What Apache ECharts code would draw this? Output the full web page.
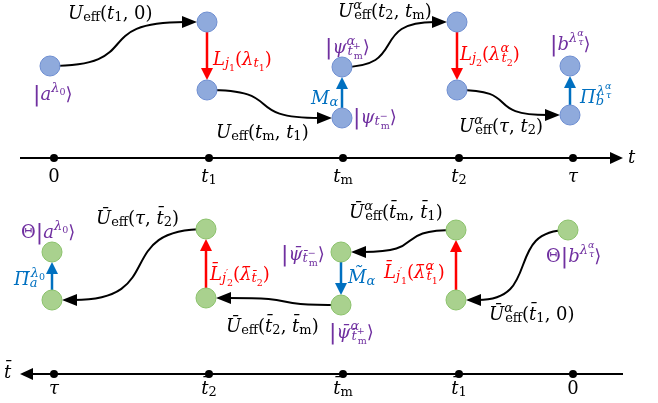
<!DOCTYPE html>
<html><head><meta charset="utf-8">
<script src="https://cdn.jsdelivr.net/npm/echarts@6/dist/echarts.min.js"></script>
<style>html,body{margin:0;padding:0;background:#fff}#c{width:658px;height:403px}</style>
</head><body><div id="c"></div>
<script>
// ---- data ----
const tickX = [54, 209, 343, 459, 573];
const topTickLabels = ['{r|0}', '{i|t}{sr|1}', '{i|t}{sr|m}', '{i|t}{sr|2}', '{i|τ}'];
const bottomTickLabels = ['{i|τ}', '{i|t\u0304}{sr|2}', '{i|t\u0304}{sr|m}', '{i|t\u0304}{sr|1}', '{r|0}'];
const axisLevels = [158, 374];
const axisNames = ['{i|t}', '{i|t\u0304}'];
const blueNodes = [[50,66],[207,22],[207,90],[342,118],[342,67],[457,22],[457,90],[570,115],[570,66]];
const greenNodes = [[52,300],[52,252],[206,298],[206,229],[341,252],[341,305],[456,300],[456,230],[568,230]];
const redArrows = [[207,32,207,80],[457,32,457,80],[206,288,206,239],[456,290,456,240]];
const blueArrows = [[342,108,342,77],[570,105,570,76],[52,290,52,262],[341,262,341,295]];
const curveArrows = [[50,66,197,22],[207,90,332,118],[342,67,447,22],[457,90,560,115],
                     [206,229,62,300],[341,305,216,298],[456,230,351,252],[568,230,466,300]];
const axisArrows = [[20,158,623,158],[623,374,20,374]];
const labels = [
  [68,14,'k','{i|U}{sr|eff}{r|(}{i|t}{sr|1}{r|, 0)}'],
  [213,60,'r','{i|L}{si|j}{ssr|1}{r|(}{i|λ}{si|t}{ssr|1}{r|)}'],
  [33,95,'p','{bar||}{i|a}{pi|λ}{psr|0}{r|⟩}'],
  [216,133,'k','{i|U}{sr|eff}{r|(}{i|t}{sr|m}{r|, }{i|t}{sr|1}{r|)}'],
  [311,99,'b','{i|M}{si|α}'],
  [353,118,'p','{bar||}{i|ψ}{si|t}{sspw|−}{ssr|m}{r|⟩}'],
  [325,48,'p','{bar||}{i|ψ}{piw|α}{si|t}{sspw|+}{ssr|m}{r|⟩}'],
  [338,12,'k','{i|U}{piw|α}{sr|eff}{r|(}{i|t}{sr|2}{r|, }{i|t}{sr|m}{r|)}'],
  [460,55,'r','{i|L}{si|j}{ssr|2}{r|(}{i|λ}{piw|α}{si|t}{ssr|2}{r|)}'],
  [550,45,'p','{bar||}{i|b}{pi|λ}{ppiw|α}{psi|τ}{r|⟩}'],
  [580,98,'b','{i|Π}{siw|b}{pi|λ}{ppiw|α}{psi|τ}'],
  [459,127,'k','{i|U}{piw|α}{sr|eff}{r|(}{i|τ}{r|, }{i|t}{sr|2}{r|)}'],
  [21,233,'p','{r|Θ}{bar||}{i|a}{pi|λ}{psr|0}{r|⟩}'],
  [14,280,'b','{i|Π\u0303}{siw|a}{pi|λ}{psr|0}'],
  [96,219,'k','{i|U\u0304}{sr|eff}{r|(}{i|τ}{r|, }{i|t\u0304}{sr|2}{r|)}'],
  [210,275,'r','{i|L\u0304}{si|j}{sspw|′}{ssr|2}{r|(}{i|λ\u0304}{si|t\u0304}{ssr|2}{r|)}'],
  [281,255,'p','{bar||}{i|ψ\u0304}{si|t\u0304}{sspw|−}{ssr|m}{r|⟩}'],
  [226,327,'k','{i|U\u0304}{sr|eff}{r|(}{i|t\u0304}{sr|2}{r|, }{i|t\u0304}{sr|m}{r|)}'],
  [329,333,'p','{bar||}{i|ψ\u0304}{piw|α}{si|t\u0304}{sspw|+}{ssr|m}{r|⟩}'],
  [348,278,'b','{i|M\u0303}{si|α}'],
  [349,213,'k','{i|U\u0304}{piw|α}{sr|eff}{r|(}{i|t\u0304}{sr|m}{r|, }{i|t\u0304}{sr|1}{r|)}'],
  [384,273,'r','{i|L\u0304}{si|j}{sspw|′}{ssr|1}{r|(}{i|λ\u0304}{piw|α}{si|t\u0304}{ssr|1}{r|)}'],
  [546,257,'p','{r|Θ}{bar||}{i|b}{pi|λ}{ppiw|α}{psi|τ}{r|⟩}'],
  [489,315,'k','{i|U\u0304}{piw|α}{sr|eff}{r|(}{i|t\u0304}{sr|1}{r|, 0)}']
];

// ---- styles ----
const COLORS = {k:'#000000', r:'#FF0000', b:'#0070C0', p:'#7030A0'};
const FF = '"DejaVu Serif", "Liberation Serif", serif';
const B = 18, S = 13, SS = 9.5;
const rich = {
  i:   {font:`italic ${B}px ${FF}`},
  r:   {font:`${B}px ${FF}`},
  bar: {font:`22px "DejaVu Sans"`},
  si:  {font:`italic ${S}px ${FF}`, padding:[8,0,0,0]},
  siw: {font:`italic ${S}px ${FF}`, padding:[8,0,0,0], width:1},
  sr:  {font:`${S}px ${FF}`, padding:[8,0,0,0]},
  pi:  {font:`italic ${S}px ${FF}`, padding:[0,0,12,0]},
  piw: {font:`italic ${S}px ${FF}`, padding:[0,0,12,0], width:1},
  ssr: {font:`${SS}px ${FF}`, padding:[18,0,0,0]},
  sspw:{font:`${SS}px ${FF}`, padding:[0,0,2,0], width:1},
  psr: {font:`${SS}px ${FF}`, padding:[0,0,4,0]},
  psi: {font:`italic ${SS}px ${FF}`, padding:[0,0,4,0]},
  ppiw:{font:`italic ${SS}px ${FF}`, padding:[0,0,22,0], width:1}
};

function arrowRender(color, width, headLen, headHalf, curved) {
  return function (params, api) {
    const p0 = api.coord([api.value(0), api.value(1)]);
    const p1 = api.coord([api.value(2), api.value(3)]);
    const children = [];
    let dir;
    if (curved) {
      dir = [Math.sign(p1[0] - p0[0]), 0];
      const end = [p1[0] - dir[0] * headLen * 0.8, p1[1]];
      const k = 0.72, d = end[0] - p0[0];
      children.push({type:'bezierCurve', shape:{x1:p0[0], y1:p0[1], cpx1:p0[0] + k*d, cpy1:p0[1],
        cpx2:end[0] - k*d, cpy2:end[1], x2:end[0], y2:end[1]},
        style:{stroke:color, lineWidth:width, fill:null}});
    } else {
      const L = Math.hypot(p1[0] - p0[0], p1[1] - p0[1]);
      dir = [(p1[0] - p0[0]) / L, (p1[1] - p0[1]) / L];
      const end = [p1[0] - dir[0] * headLen * 0.8, p1[1] - dir[1] * headLen * 0.8];
      children.push({type:'line', shape:{x1:p0[0], y1:p0[1], x2:end[0], y2:end[1]},
        style:{stroke:color, lineWidth:width}});
    }
    const n = [-dir[1], dir[0]];
    const b = [p1[0] - dir[0] * headLen, p1[1] - dir[1] * headLen];
    children.push({type:'polygon', shape:{points:[p1,
      [b[0] + n[0]*headHalf, b[1] + n[1]*headHalf], [b[0] - n[0]*headHalf, b[1] - n[1]*headHalf]]},
      style:{fill:color}});
    return {type:'group', children};
  };
}

function textRender(list, align) {
  return function (params, api) {
    const it = list[params.dataIndex];
    const p = api.coord([it[0], it[1]]);
    return {type:'text', style:{text:it[3], x:p[0], y:p[1], align:align, verticalAlign:'middle',
      fill:COLORS[it[2]], font:`italic ${B}px ${FF}`, rich:rich}};
  };
}

const tickLabelList = [];
tickX.forEach((x, i) => tickLabelList.push([x, 177, 'k', topTickLabels[i]]));
tickX.forEach((x, i) => tickLabelList.push([x, 389, 'k', bottomTickLabels[i]]));
const axisNameList = [[628, 158, 'k', axisNames[0]], [4, 373, 'k', axisNames[1]]];

const chart = echarts.init(document.getElementById('c'), null, {renderer:'canvas'});
const base = {coordinateSystem:'cartesian2d', silent:true, clip:false, animation:false};
chart.setOption({
  animation:false,
  backgroundColor:'#ffffff',
  grid:{left:0, right:0, top:0, bottom:0, containLabel:false},
  xAxis:{type:'value', min:0, max:658, show:false},
  yAxis:{type:'value', min:0, max:403, inverse:true, show:false},
  series:[
    Object.assign({type:'custom', z:1, renderItem:arrowRender('#000', 2, 13, 6, false),
      data:axisArrows}, base),
    Object.assign({type:'scatter', z:2, symbol:'circle', symbolSize:8, itemStyle:{color:'#000', opacity:1},
      data:tickX.map(x => [x, axisLevels[0]]).concat(tickX.map(x => [x, axisLevels[1]]))}, base),
    Object.assign({type:'custom', z:3, renderItem:arrowRender('#000', 2, 15, 6, true),
      data:curveArrows}, base),
    Object.assign({type:'custom', z:3, renderItem:arrowRender('#FF0000', 2.5, 12, 6, false),
      data:redArrows}, base),
    Object.assign({type:'custom', z:3, renderItem:arrowRender('#0070C0', 2.5, 12, 6, false),
      data:blueArrows}, base),
    Object.assign({type:'scatter', z:4, symbol:'circle', symbolSize:20,
      itemStyle:{color:'#8FAADC', borderColor:'#6F8FD2', borderWidth:1, opacity:1}, data:blueNodes}, base),
    Object.assign({type:'scatter', z:4, symbol:'circle', symbolSize:20,
      itemStyle:{color:'#A9D18E', borderColor:'#8CC36C', borderWidth:1, opacity:1}, data:greenNodes}, base),
    Object.assign({type:'custom', z:5, renderItem:textRender(labels, 'left'),
      data:labels.map(l => [l[0], l[1]])}, base),
    Object.assign({type:'custom', z:5, renderItem:textRender(tickLabelList, 'center'),
      data:tickLabelList.map(l => [l[0], l[1]])}, base),
    Object.assign({type:'custom', z:5, renderItem:textRender(axisNameList, 'left'),
      data:axisNameList.map(l => [l[0], l[1]])}, base)
  ]
});
</script></body></html>
